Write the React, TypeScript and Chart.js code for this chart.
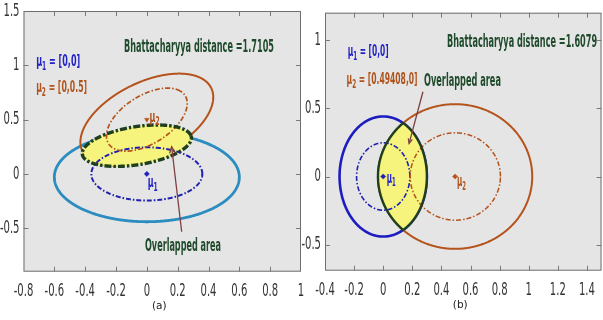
import { useEffect, useRef } from 'react';
import { Chart, registerables } from 'chart.js';

Chart.register(...registerables);

// ---------- axes ----------
const xRangeA = [-0.8, 1];
const yRangeA = [-0.9, 1.5];
const xTicksA = [-0.8, -0.6, -0.4, -0.2, 0, 0.2, 0.4, 0.6, 0.8, 1];
const yTicksA = [-0.5, 0, 0.5, 1, 1.5];
const xRangeB = [-0.4, 1.5];
const yRangeB = [-0.69, 1.2];
const xTicksB = [-0.4, -0.2, 0, 0.2, 0.4, 0.6, 0.8, 1, 1.2, 1.4];
const yTicksB = [-0.5, 0, 0.5, 1];

// ---------- ellipses: [cx, cy, semi-axis a, semi-axis b, rotation deg] ----------
const blueOuterA = [0, -0.03, 0.6, 0.41, 0];
const blueInnerA = [0, 0, 0.36, 0.245, 0];
const brownOuterA = [0, 0.5, 0.521, 0.306, 44];
const brownInnerA = [0, 0.5, 0.341, 0.191, 50.6];
const overlapA = [-0.065, 0.26, 0.363, 0.1725, 14.7];

const blueOuterB = [0, 0, 0.3, 0.44, 0];
const blueInnerB = [0, 0, 0.183, 0.247, 0];
const brownOuterB = [0.494, 0, 0.53, 0.53, 0];
const brownInnerB = [0.4955, 0, 0.31, 0.32, 0];

// ---------- means & distances ----------
const meansA = [[0, 0], [0, 0.5]];
const meansB = [[0, 0], [0.49408, 0]];
const distanceA = '1.7105';
const distanceB = '1.6079';

// ---------- styles ----------
const FONT = "'Liberation Sans Narrow', 'DejaVu Sans Condensed', sans-serif";
const BG = '#e5e5e5';
const GREEN = '#1f4a2c';
const BLUE_TXT = '#2323c8';
const BROWN_TXT = '#b0541e';
const BROWN = '#b4531c';
const YELLOW = '#f6f47c';
const EDGE = '#1f3f1f';
const ARROW = '#7d4040';

type Ell = number[];
type Part = { t: string; sub?: boolean };

function ellipsePoints(e: Ell, n = 360) {
  const [cx, cy, a, b, deg] = e;
  const r = (deg * Math.PI) / 180;
  const pts: { x: number; y: number }[] = [];
  for (let i = 0; i <= n; i++) {
    const t = (2 * Math.PI * i) / n;
    const u = a * Math.cos(t);
    const v = b * Math.sin(t);
    pts.push({ x: cx + u * Math.cos(r) - v * Math.sin(r), y: cy + u * Math.sin(r) + v * Math.cos(r) });
  }
  return pts;
}

function rayDistance(e: Ell, px: number, py: number, c: number, s: number) {
  const [cx, cy, a, b, deg] = e;
  const r = (deg * Math.PI) / 180;
  const cr = Math.cos(r), sr = Math.sin(r);
  const dx = px - cx, dy = py - cy;
  const u0 = dx * cr + dy * sr, v0 = -dx * sr + dy * cr;
  const du = c * cr + s * sr, dv = -c * sr + s * cr;
  const A = (du * du) / (a * a) + (dv * dv) / (b * b);
  const B = 2 * ((u0 * du) / (a * a) + (v0 * dv) / (b * b));
  const C = (u0 * u0) / (a * a) + (v0 * v0) / (b * b) - 1;
  return (-B + Math.sqrt(B * B - 4 * A * C)) / (2 * A);
}

// region common to two ellipses, traced around a point inside both
function overlapPoints(e1: Ell, e2: Ell, n = 1440) {
  const px = (Math.max(e1[0] - e1[2], e2[0] - e2[2]) + Math.min(e1[0] + e1[2], e2[0] + e2[2])) / 2;
  const py = (e1[1] + e2[1]) / 2;
  const pts: { x: number; y: number }[] = [];
  for (let i = 0; i <= n; i++) {
    const t = (2 * Math.PI * i) / n;
    const c = Math.cos(t), s = Math.sin(t);
    const d = Math.min(rayDistance(e1, px, py, c, s), rayDistance(e2, px, py, c, s));
    pts.push({ x: px + d * c, y: py + d * s });
  }
  return pts;
}

const lineDs = (data: any[], color: string, width: number, dash: number[], order: number) => ({
  data,
  showLine: true,
  borderColor: color,
  borderWidth: width,
  borderDash: dash,
  pointRadius: 0,
  fill: false,
  tension: 0.001,
  order,
});

const fillDs = (data: any[], order: number) => ({
  data,
  showLine: true,
  borderColor: 'rgba(0,0,0,0)',
  borderWidth: 0,
  backgroundColor: YELLOW,
  pointRadius: 0,
  fill: 'shape',
  tension: 0.001,
  order,
});

const markerDs = (m: number[], color: string, style: string, rot: number) => ({
  data: [{ x: m[0], y: m[1] }],
  showLine: false,
  pointStyle: style,
  pointRotation: rot,
  pointRadius: 2.6,
  pointBackgroundColor: color,
  pointBorderColor: color,
  pointBorderWidth: 0.5,
  order: 0,
});

interface Note { parts: Part[]; x: number; y: number; w: number; size: number; color: string }
interface Arrow { from: number[]; to: number[]; head: number }
interface Panel {
  left: number;
  width: number;
  padding: { left: number; right: number; top: number; bottom: number };
  xRange: number[];
  yRange: number[];
  xTicks: number[];
  yTicks: number[];
  caption: string;
  build: () => any[];
  notes: Note[];
  arrows: Arrow[];
}

const mu = (k: string, rest: string): Part[] => [{ t: 'μ' }, { t: k, sub: true }, { t: rest }];
const fmtMean = (m: number[]) => ` = [${m.join(',')}]`;

const panelA: Panel = {
  left: 0,
  width: 310,
  padding: { left: 23.5, right: 9, top: 11, bottom: 48.3 },
  xRange: xRangeA,
  yRange: yRangeA,
  xTicks: xTicksA,
  yTicks: yTicksA,
  caption: '(a)',
  build: () => [
    lineDs(ellipsePoints(blueOuterA), '#2b8cc0', 2.8, [], 7),
    lineDs(ellipsePoints(brownOuterA), BROWN, 2, [], 6),
    fillDs(ellipsePoints(overlapA), 5),
    lineDs(ellipsePoints(blueInnerA), '#2020b0', 2, [5, 2, 1.5, 2], 4),
    lineDs(ellipsePoints(brownInnerA), BROWN, 1.7, [5, 2, 1.5, 2], 3),
    lineDs(ellipsePoints(overlapA), EDGE, 3.4, [7, 2, 2.5, 2], 2),
    markerDs(meansA[0], '#2020c0', 'rectRot', 0),
    markerDs(meansA[1], BROWN, 'triangle', 180),
  ],
  notes: [
    { parts: [{ t: 'Bhattacharyya distance =' + distanceA }], x: -0.148, y: 1.162, w: 150, size: 17, color: GREEN },
    { parts: mu('1', fmtMean(meansA[0])), x: -0.718, y: 1.033, w: 44, size: 16, color: BLUE_TXT },
    { parts: mu('2', fmtMean(meansA[1])), x: -0.718, y: 0.788, w: 51, size: 16, color: BROWN_TXT },
    { parts: [{ t: 'Overlapped area' }], x: -0.012, y: -0.67, w: 76, size: 17, color: GREEN },
    { parts: mu('2', ''), x: 0.018, y: 0.52, w: 10, size: 16, color: BROWN_TXT },
    { parts: mu('1', ''), x: 0.006, y: -0.08, w: 10, size: 16, color: BLUE_TXT },
  ],
  arrows: [{ from: [0.226, -0.532], to: [0.161, 0.25], head: 7 }],
};

const panelB: Panel = {
  left: 300,
  width: 306,
  padding: { left: 25, right: 1.6, top: 12.7, bottom: 49.3 },
  xRange: xRangeB,
  yRange: yRangeB,
  xTicks: xTicksB,
  yTicks: yTicksB,
  caption: '(b)',
  build: () => [
    lineDs(ellipsePoints(blueOuterB), '#1c1cc0', 2.6, [], 7),
    lineDs(ellipsePoints(brownOuterB), BROWN, 2, [], 6),
    fillDs(overlapPoints(blueOuterB, brownOuterB), 5),
    lineDs(ellipsePoints(blueInnerB), '#2020b0', 1.6, [5, 2, 1.5, 2], 4),
    lineDs(ellipsePoints(brownInnerB), BROWN, 1.5, [5, 2, 1.5, 2], 3),
    lineDs(overlapPoints(blueOuterB, brownOuterB), EDGE, 2.4, [], 2),
    markerDs(meansB[0], '#2020c0', 'rectRot', 0),
    markerDs(meansB[1], BROWN, 'rectRot', 0),
  ],
  notes: [
    { parts: [{ t: 'Bhattacharyya distance =' + distanceB }], x: 0.439, y: 0.98, w: 150, size: 17, color: GREEN },
    { parts: mu('1', fmtMean(meansB[0])), x: -0.244, y: 0.914, w: 41, size: 16, color: BLUE_TXT },
    { parts: mu('2', fmtMean(meansB[1])), x: -0.252, y: 0.707, w: 71, size: 16, color: BROWN_TXT },
    { parts: [{ t: 'Overlapped area' }], x: 0.28, y: 0.694, w: 77, size: 17, color: GREEN },
    { parts: mu('1', ''), x: 0.024, y: -0.015, w: 9, size: 16, color: BLUE_TXT },
    { parts: mu('2', ''), x: 0.507, y: -0.04, w: 9, size: 16, color: BROWN_TXT },
  ],
  arrows: [{ from: [0.273, 0.621], to: [0.178, 0.243], head: 5 }],
};

function drawParts(
  ctx: CanvasRenderingContext2D,
  parts: Part[],
  x: number,
  y: number,
  size: number,
  color: string,
  opts: { targetW?: number; sx?: number; align?: 'left' | 'center' | 'right'; bold?: boolean; family?: string }
) {
  const fam = opts.family || FONT;
  const font = (s: number) => `${opts.bold ? 'bold ' : ''}${s}px ${fam}`;
  let w = 0;
  for (const p of parts) {
    ctx.font = font(p.sub ? size * 0.75 : size);
    w += ctx.measureText(p.t).width;
  }
  const sx = opts.targetW ? opts.targetW / w : opts.sx || 1;
  const align = opts.align || 'left';
  ctx.save();
  ctx.translate(x, y);
  ctx.scale(sx, 1);
  ctx.textAlign = 'left';
  ctx.textBaseline = 'middle';
  ctx.fillStyle = color;
  let cx = align === 'left' ? 0 : align === 'center' ? -w / 2 : -w;
  for (const p of parts) {
    ctx.font = font(p.sub ? size * 0.75 : size);
    ctx.fillText(p.t, cx, p.sub ? size * 0.3 : 0);
    cx += ctx.measureText(p.t).width;
  }
  ctx.restore();
}

function drawArrow(ctx: CanvasRenderingContext2D, x1: number, y1: number, x2: number, y2: number, head: number) {
  ctx.save();
  ctx.strokeStyle = ARROW;
  ctx.lineWidth = 1.3;
  ctx.beginPath();
  ctx.moveTo(x1, y1);
  ctx.lineTo(x2, y2);
  ctx.stroke();
  const ang = Math.atan2(y2 - y1, x2 - x1);
  ctx.beginPath();
  ctx.moveTo(x2 - head * Math.cos(ang - 0.42), y2 - head * Math.sin(ang - 0.42));
  ctx.lineTo(x2, y2);
  ctx.lineTo(x2 - head * Math.cos(ang + 0.42), y2 - head * Math.sin(ang + 0.42));
  ctx.stroke();
  ctx.restore();
}

const makeDeco = (p: Panel) => ({
  id: 'deco',
  beforeDatasetsDraw(chart: any) {
    const { ctx, chartArea: ca } = chart;
    ctx.save();
    ctx.fillStyle = BG;
    ctx.fillRect(ca.left, ca.top, ca.right - ca.left, ca.bottom - ca.top);
    ctx.restore();
  },
  afterDatasetsDraw(chart: any) {
    const { ctx, chartArea: ca, scales } = chart;
    const xs = scales.x, ys = scales.y;
    for (const a of p.arrows) {
      drawArrow(
        ctx,
        xs.getPixelForValue(a.from[0]),
        ys.getPixelForValue(a.from[1]),
        xs.getPixelForValue(a.to[0]),
        ys.getPixelForValue(a.to[1]),
        a.head
      );
    }
    for (const n of p.notes) {
      drawParts(ctx, n.parts, xs.getPixelForValue(n.x), ys.getPixelForValue(n.y), n.size, n.color, {
        targetW: n.w,
        bold: true,
      });
    }
    // frame
    ctx.save();
    ctx.lineWidth = 1;
    ctx.strokeStyle = '#6e6e6e';
    ctx.strokeRect(ca.left + 0.5, ca.top + 0.5, ca.right - ca.left - 1, ca.bottom - ca.top - 1);
    // inward ticks
    ctx.strokeStyle = '#7a7a7a';
    ctx.beginPath();
    for (const v of p.xTicks) {
      const px = Math.round(xs.getPixelForValue(v)) + 0.5;
      if (px < ca.left + 2 || px > ca.right - 2) continue;
      ctx.moveTo(px, ca.top);
      ctx.lineTo(px, ca.top + 5);
      ctx.moveTo(px, ca.bottom);
      ctx.lineTo(px, ca.bottom - 5);
    }
    for (const v of p.yTicks) {
      const py = Math.round(ys.getPixelForValue(v)) + 0.5;
      if (py < ca.top + 2 || py > ca.bottom - 2) continue;
      ctx.moveTo(ca.left, py);
      ctx.lineTo(ca.left + 5, py);
      ctx.moveTo(ca.right, py);
      ctx.lineTo(ca.right - 5, py);
    }
    ctx.stroke();
    ctx.restore();
    // tick labels
    for (const v of p.xTicks) {
      drawParts(ctx, [{ t: String(v) }], xs.getPixelForValue(v), ca.bottom + 20, 18, '#333', {
        sx: 0.62,
        align: 'center',
      });
    }
    for (const v of p.yTicks) {
      drawParts(ctx, [{ t: String(v) }], ca.left - 4, ys.getPixelForValue(v), 18, '#333', {
        sx: 0.62,
        align: 'right',
      });
    }
    // caption
    drawParts(ctx, [{ t: p.caption }], (ca.left + ca.right) / 2 - 3, ca.bottom + 35, 10.5, '#222', {
      align: 'center',
      family: "'DejaVu Sans', sans-serif",
    });
  },
});

function PanelChart({ panel }: { panel: Panel }) {
  const ref = useRef<HTMLCanvasElement>(null);
  useEffect(() => {
    const chart = new Chart(ref.current as HTMLCanvasElement, {
      type: 'scatter',
      data: { datasets: panel.build() },
      options: {
        animation: false,
        responsive: false,
        events: [],
        layout: { padding: panel.padding },
        scales: {
          x: { type: 'linear', display: false, min: panel.xRange[0], max: panel.xRange[1] },
          y: { type: 'linear', display: false, min: panel.yRange[0], max: panel.yRange[1] },
        },
        plugins: { legend: { display: false }, tooltip: { enabled: false } },
      } as any,
      plugins: [makeDeco(panel)],
    });
    return () => chart.destroy();
  }, [panel]);
  return (
    <canvas
      ref={ref}
      width={panel.width}
      height={320}
      style={{ position: 'absolute', left: panel.left, top: 0, width: panel.width, height: 320 }}
    />
  );
}

export default function App() {
  return (
    <div
      style={{
        position: 'absolute',
        left: 0,
        top: 0,
        width: 603,
        height: 320,
        overflow: 'hidden',
        background: '#ffffff',
      }}
    >
      <PanelChart panel={panelA} />
      <PanelChart panel={panelB} />
    </div>
  );
}
